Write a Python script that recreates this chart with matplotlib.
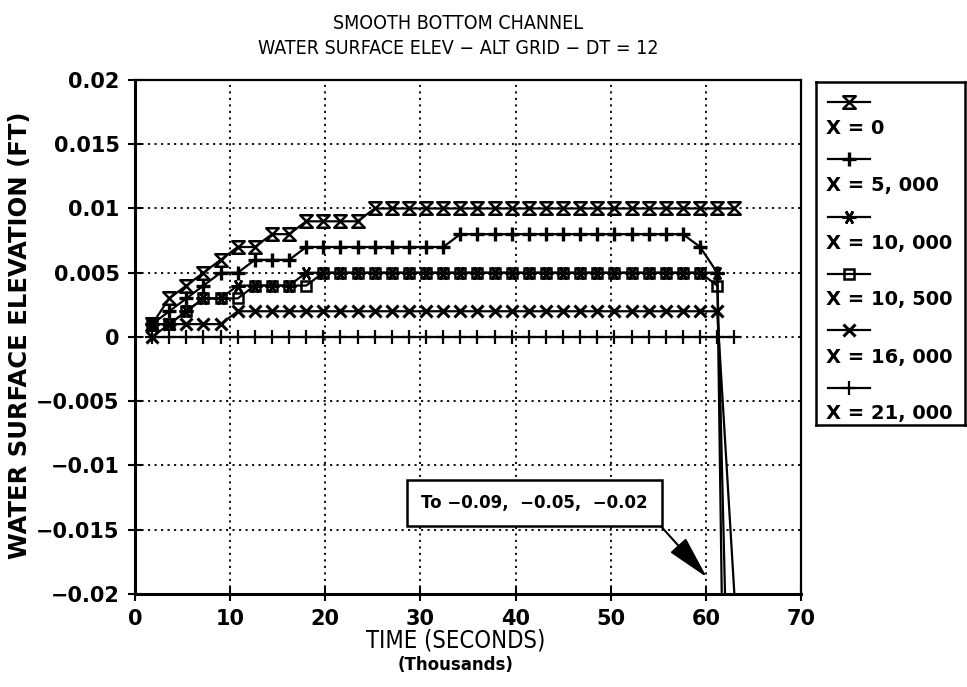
import matplotlib
matplotlib.use('Agg')
import matplotlib.pyplot as plt
from matplotlib.path import Path
import numpy as np

# ---------------- data (thousands of seconds, ft) ----------------
times = [1.8, 3.6, 5.4, 7.2, 9.0, 10.8, 12.6, 14.4, 16.2, 18.0, 19.8, 21.6,
         23.4, 25.2, 27.0, 28.8, 30.6, 32.4, 34.2, 36.0, 37.8, 39.6, 41.4,
         43.2, 45.0, 46.8, 48.6, 50.4, 52.2, 54.0, 55.8, 57.6, 59.4, 61.2, 63.0]

x_0 = [0.001, 0.003, 0.004, 0.005, 0.006, 0.007, 0.007, 0.008, 0.008, 0.009,
       0.009, 0.009, 0.009, 0.010, 0.010, 0.010, 0.010, 0.010, 0.010, 0.010,
       0.010, 0.010, 0.010, 0.010, 0.010, 0.010, 0.010, 0.010, 0.010, 0.010,
       0.010, 0.010, 0.010, 0.010, 0.010]
x_5000 = [0.001, 0.002, 0.003, 0.004, 0.005, 0.005, 0.006, 0.006, 0.006, 0.007,
          0.007, 0.007, 0.007, 0.007, 0.007, 0.007, 0.007, 0.007, 0.008, 0.008,
          0.008, 0.008, 0.008, 0.008, 0.008, 0.008, 0.008, 0.008, 0.008, 0.008,
          0.008, 0.008, 0.007, 0.005, -0.09]
x_10000 = [0.001, 0.001, 0.002, 0.003, 0.003, 0.004, 0.004, 0.004, 0.004, 0.005,
           0.005, 0.005, 0.005, 0.005, 0.005, 0.005, 0.005, 0.005, 0.005, 0.005,
           0.005, 0.005, 0.005, 0.005, 0.005, 0.005, 0.005, 0.005, 0.005, 0.005,
           0.005, 0.005, 0.005, 0.005, -0.05]
x_10500 = [0.001, 0.001, 0.002, 0.003, 0.003, 0.003, 0.004, 0.004, 0.004, 0.004,
           0.005, 0.005, 0.005, 0.005, 0.005, 0.005, 0.005, 0.005, 0.005, 0.005,
           0.005, 0.005, 0.005, 0.005, 0.005, 0.005, 0.005, 0.005, 0.005, 0.005,
           0.005, 0.005, 0.005, 0.004, np.nan]
x_16000 = [0.0, 0.001, 0.001, 0.001, 0.001, 0.002, 0.002, 0.002, 0.002, 0.002,
           0.002, 0.002, 0.002, 0.002, 0.002, 0.002, 0.002, 0.002, 0.002, 0.002,
           0.002, 0.002, 0.002, 0.002, 0.002, 0.002, 0.002, 0.002, 0.002, 0.002,
           0.002, 0.002, 0.002, 0.002, -0.02]
x_21000 = [0.0, 0.0, 0.0, 0.0, 0.0, 0.0, 0.0, 0.0, 0.0, 0.0, 0.0, 0.0, 0.0, 0.0,
           0.0, 0.0, 0.0, 0.0, 0.0, 0.0, 0.0, 0.0, 0.0, 0.0, 0.0, 0.0, 0.0, 0.0,
           0.0, 0.0, 0.0, 0.0, 0.0, 0.0, 0.0]

series = [x_0, x_5000, x_10000, x_10500, x_16000, x_21000]
labels = ['X = 0', 'X = 5, 000', 'X = 10, 000', 'X = 10, 500', 'X = 16, 000', 'X = 21, 000']

xticks = [0, 10, 20, 30, 40, 50, 60, 70]
yticks = [0.02, 0.015, 0.01, 0.005, 0, -0.005, -0.01, -0.015, -0.02]
ytick_labels = ['0.02', '0.015', '0.01', '0.005', '0', '\u22120.005', '\u22120.01', '\u22120.015', '\u22120.02']

# ---------------- styles ----------------
hourglass = Path([(-1, 1), (1, 1), (-1, -1), (1, -1), (-1, 1)], closed=True)
styles = [
    dict(marker=hourglass, ms=9, mfc='none', mew=1.8),
    dict(marker='+', ms=10, mew=2.4),
    dict(marker=(6, 2, 90), ms=10, mew=1.8),
    dict(marker='s', ms=7.5, mfc='none', mew=1.8),
    dict(marker='x', ms=8, mew=2.2),
    dict(marker='+', ms=10, mew=1.6),
]
drops = [False, True, True, True, True, False]

cond = dict(family='DejaVu Sans', stretch='condensed')

fig = plt.figure(figsize=(9.67, 6.87), dpi=100)
ax = fig.add_axes([0.1396, 0.1354, 0.6887, 0.7482])

for vals, st, dr in zip(series, styles, drops):
    mk = slice(0, len(times) - 1) if dr else None
    ax.plot(times, vals, color='black', lw=1.6, markevery=mk, **st)

ax.set_xlim(0, 70)
ax.set_ylim(-0.02, 0.02)
ax.set_xticks(xticks)
ax.set_xticklabels([str(v) for v in xticks], fontsize=15, fontweight='bold')
ax.set_yticks(yticks)
ax.set_yticklabels(ytick_labels, fontsize=15, fontweight='bold')
ax.tick_params(direction='inout', length=10, width=1.5, pad=6)
ax.grid(True, color='black', linestyle=(0, (1.2, 2.4)), lw=1.3)
for s in ['left', 'bottom']:
    ax.spines[s].set_linewidth(2.2)
for s in ['top', 'right']:
    ax.spines[s].set_linewidth(1.6)

ax.annotate('To \u22120.09,  \u22120.05,  \u22120.02', xy=(60.1, -0.0187), xytext=(42.0, -0.0129),
            ha='center', va='center', fontsize=12, fontweight='bold',
            bbox=dict(boxstyle='square,pad=0.85', fc='white', ec='black', lw=1.8),
            arrowprops=dict(arrowstyle='-|>,head_length=0.9,head_width=0.22', relpos=(1, 0),
                            mutation_scale=30, color='black', lw=1.5, shrinkA=0, shrinkB=0))

# titles and axis labels
fig.text(0.474, 0.966, 'SMOOTH BOTTOM CHANNEL', ha='center', va='center', fontsize=14, **cond)
fig.text(0.474, 0.929, 'WATER SURFACE ELEV \u2212 ALT GRID \u2212 DT = 12', ha='center', va='center',
         fontsize=14, **cond)
fig.text(0.471, 0.068, 'TIME (SECONDS)', ha='center', va='center', fontsize=17, **cond)
fig.text(0.471, 0.032, '(Thousands)', ha='center', va='center', fontsize=12, fontweight='bold')
fig.text(0.021, 0.512, 'WATER SURFACE ELEVATION (FT)', ha='center', va='center', rotation=90,
         fontsize=17.5, fontweight='bold')

# legend box (pixel coordinates inside its own axes)
lax = fig.add_axes([816 / 967, 1 - 425 / 687, 149 / 967, 343 / 687])
lax.set_xlim(816, 965)
lax.set_ylim(425, 82)
lax.set_xticks([])
lax.set_yticks([])
for s in lax.spines.values():
    s.set_linewidth(1.8)
handle_y = [102, 159, 217, 274, 330, 388]
label_y = [128, 186, 243, 300, 357, 413]
for st, lab, hy, ly in zip(styles, labels, handle_y, label_y):
    lax.plot([828, 870], [hy, hy], color='black', lw=1.6)
    lax.plot([849], [hy], color='black', **st)
    lax.text(826, ly, lab, ha='left', va='center', fontsize=14, fontweight='bold')

fig.savefig('out.png', dpi=100)
